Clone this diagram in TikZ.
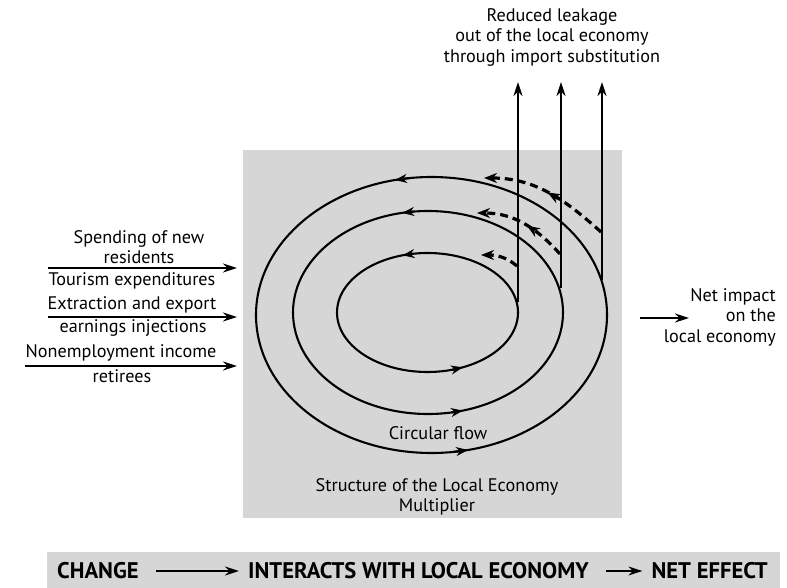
\documentclass[tikz,border=0pt]{standalone}
\usepackage{fontspec}
\setmainfont{PT Sans}
\usetikzlibrary{arrows.meta}
\definecolor{stip}{RGB}{214,214,214}
\begin{document}
\begin{tikzpicture}[x=1pt,y=1pt,
  txt/.style={font=\fontsize{18.2}{20.5}\selectfont, align=center, inner sep=0pt},
  bandtxt/.style={font=\fontsize{22.6}{24}\selectfont\bfseries, inner sep=0pt, anchor=west},
  flow/.style={line width=2.1pt},
  tip/.style={-{Stealth[length=14pt,width=9pt]}},
  mtip/.style={-{Stealth[length=12pt,width=9pt]}},
  leak/.style={line width=3.2pt, dash pattern=on 8pt off 5pt},
  ltip/.style={-{Stealth[length=13pt,width=10pt]}},
]
\useasboundingbox (0,0) rectangle (787,-588);
% shaded areas
\fill[stip] (243,-150) rectangle (622,-518);
\fill[stip] (47,-552) rectangle (780,-588);

% ellipses
\coordinate (co) at (431.5,-315);
\coordinate (cm) at (428,-312.5);
\coordinate (ci) at (427.5,-312.5);
\draw[flow] (co) ellipse [x radius=175.5, y radius=138];
\draw[flow] (cm) ellipse [x radius=135, y radius=101.5];
\draw[flow] (ci) ellipse [x radius=90.5, y radius=59.5];

% flow arrowheads (counterclockwise)
\draw[flow, mtip] ([shift={(co)}]97:175.5 and 138) -- ([shift={(co)}]102:175.5 and 138);
\draw[flow, mtip] ([shift={(cm)}]96:135 and 101.5) -- ([shift={(cm)}]101:135 and 101.5);
\draw[flow, mtip] ([shift={(ci)}]99:90.5 and 59.5) -- ([shift={(ci)}]106:90.5 and 59.5);
\draw[flow, mtip] ([shift={(co)}]277:175.5 and 138) -- ([shift={(co)}]282:175.5 and 138);
\draw[flow, mtip] ([shift={(cm)}]280:135 and 101.5) -- ([shift={(cm)}]285:135 and 101.5);
\draw[flow, mtip] ([shift={(ci)}]286:90.5 and 59.5) -- ([shift={(ci)}]293:90.5 and 59.5);

% leakage verticals
\coordinate (vi0) at (518,-302);
\coordinate (vi1) at (518,-82);
\coordinate (vm0) at (561,-288);
\coordinate (vm1) at (561,-82);
\coordinate (vo0) at (602,-280);
\coordinate (vo1) at (602,-82);
\draw[flow, tip] (vi0) -- (vi1);
\draw[flow, tip] (vm0) -- (vm1);
\draw[flow, tip] (vo0) -- (vo1);

% dashed re-spending
\coordinate (do0) at (601,-232);
\coordinate (do1) at (484,-178);
\coordinate (dm0) at (560,-254);
\coordinate (dm1) at (477,-213);
\coordinate (di0) at (517,-266);
\coordinate (di1) at (481,-255);
\draw[leak, ltip] (do0) to[out=138,in=0] coordinate[pos=0.40] (doA) coordinate[pos=0.5] (doB) (do1);
\draw[leak, ltip] (dm0) to[out=132,in=0] coordinate[pos=0.35] (dmA) coordinate[pos=0.45] (dmB) (dm1);
\draw[leak, ltip] (di0) to[out=140,in=0] (di1);
\draw[line width=3.2pt, ltip] (doA) -- (doB);
\draw[line width=3.2pt, ltip] (dmA) -- (dmB);

% left injections
\node[txt] (spend) at (139,-247) {Spending of new\\residents};
\node[txt] (tour) at (132,-281) {Tourism expenditures};
\node[txt] (extr) at (132,-305) {Extraction and export};
\node[txt] (earn) at (133,-328) {earnings injections};
\node[txt] (nonemp) at (121,-353) {Nonemployment income};
\node[txt] (retir) at (122,-376) {retirees};
\coordinate (a1s) at (48,-268);
\coordinate (a1e) at (237,-268);
\coordinate (a2s) at (48,-317);
\coordinate (a2e) at (237,-317);
\coordinate (a3s) at (25,-366);
\coordinate (a3e) at (237,-366);
\draw[line width=1.5pt, tip] (a1s) -- (a1e);
\draw[line width=1.5pt, tip] (a2s) -- (a2e);
\draw[line width=1.5pt, tip] (a3s) -- (a3e);

% top label
\node[txt] (leakage) at (552,-37) {Reduced leakage\\out of the local economy\\through import substitution};

% right label
\node[txt, align=right, anchor=east] (net) at (776,-317) {Net impact\\on the\\local economy};
\coordinate (n0) at (640,-318);
\coordinate (n1) at (689,-318);
\draw[line width=1.5pt, tip] (n0) -- (n1);

% box labels
\node[txt] (circ) at (438,-433) {Circular flow};
\node[txt, font=\fontsize{18.2}{19.5}\selectfont] (struct) at (437,-497) {Structure of the Local Economy\\Multiplier};

% bottom band
\node[bandtxt] (change) at (57,-571) {CHANGE};
\node[bandtxt] (inter) at (248,-571) {INTERACTS WITH LOCAL ECONOMY};
\node[bandtxt, anchor=east] (neteff) at (768,-571) {NET EFFECT};
\draw[line width=1.5pt, tip, shorten <=17pt, shorten >=9pt] (change.east) -- (inter.west);
\draw[line width=1.5pt, tip, shorten <=17pt, shorten >=9pt] (inter.east) -- (neteff.west);
\end{tikzpicture}
\end{document}
